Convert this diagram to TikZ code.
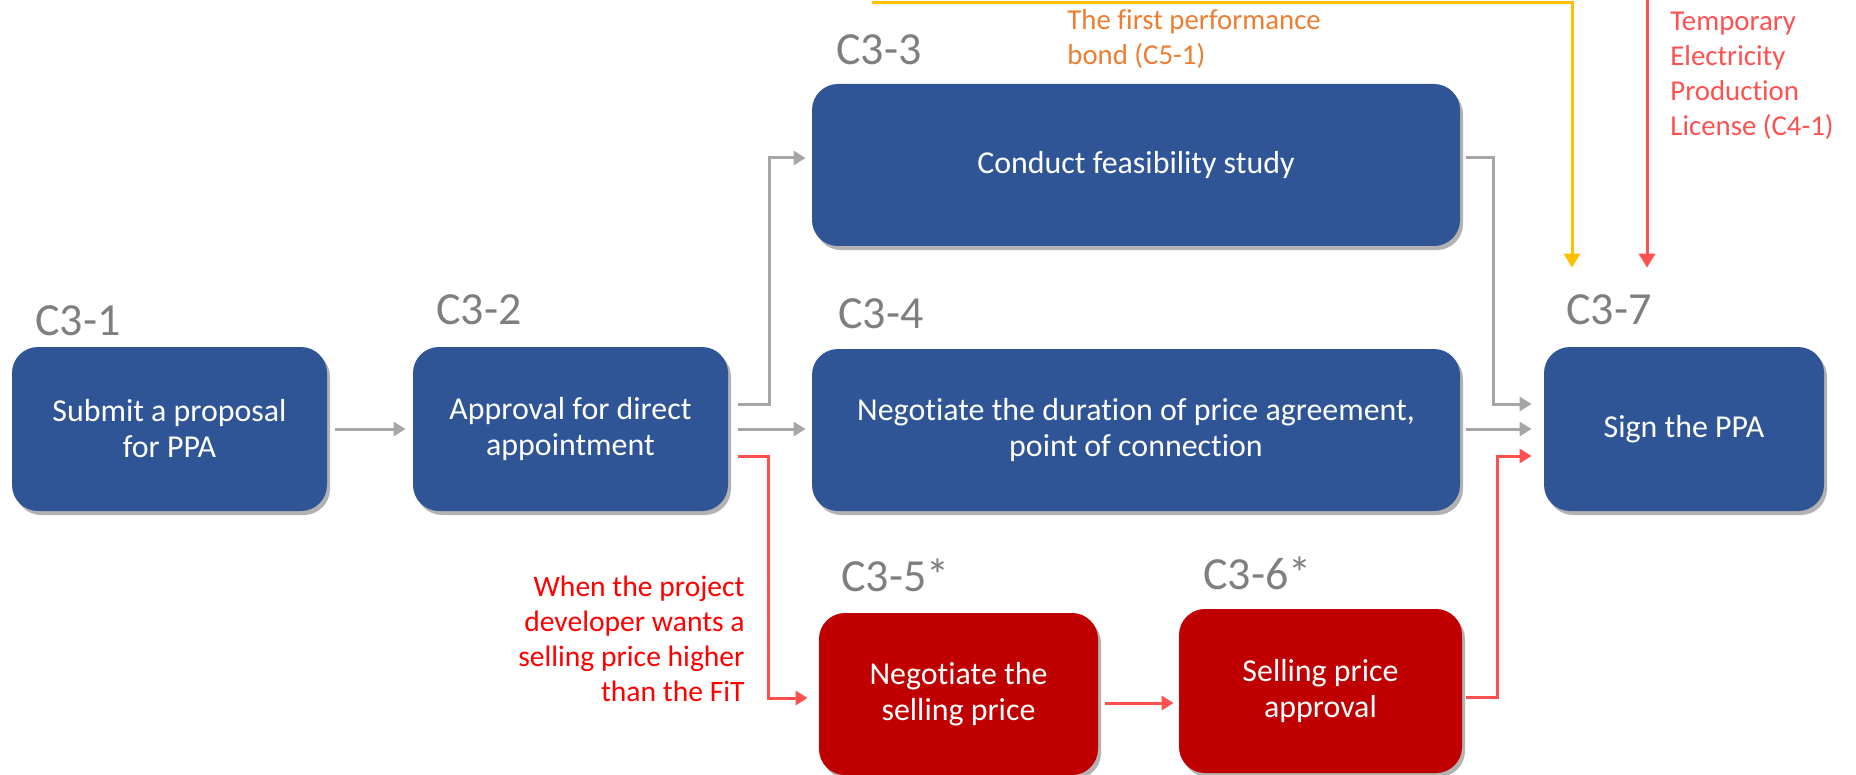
\documentclass[tikz,border=0pt]{standalone}
\usepackage{fontspec}
\setmainfont{Carlito}[Ligatures={NoCommon}]
\usetikzlibrary{calc,shadows,arrows.meta}
\definecolor{boxblue}{HTML}{2F5597}
\definecolor{boxred}{HTML}{C00000}
\definecolor{arrgrey}{HTML}{A6A6A6}
\definecolor{arrred}{HTML}{FF5050}
\definecolor{arryel}{HTML}{FFC000}
\definecolor{txtorange}{HTML}{ED7D31}
\definecolor{txtred}{HTML}{FF0000}
\definecolor{txtpink}{HTML}{FF5050}
\definecolor{labgrey}{HTML}{7F7F7F}
\begin{document}
\begin{tikzpicture}[x=0.5pt,y=-0.5pt,
  stage/.style={rounded corners=13pt, text=white, align=center,
    font=\fontsize{15.95}{18}\selectfont, inner sep=0pt,
    drop shadow={shadow xshift=1.5pt,shadow yshift=-2pt,opacity=0.3,fill=black}},
  bluebox/.style={stage, fill=boxblue},
  redbox/.style={stage, fill=boxred},
  lab/.style={text=labgrey, font=\fontsize{23}{27}\selectfont, inner sep=0pt, anchor=base west},
  note/.style={font=\fontsize{14.4}{17.5}\selectfont, inner sep=0pt},
  garrow/.style={draw=arrgrey, line width=1.5pt, -{Triangle[length=6pt,width=7pt]}},
  rarrow/.style={draw=arrred, line width=1.5pt, -{Triangle[length=6pt,width=7pt]}},
  yarrow/.style={draw=arryel, line width=1.5pt, -{Triangle[length=7pt,width=8pt]}},
  parrow/.style={draw=arrred, line width=1.5pt, -{Triangle[length=7pt,width=8pt]}}]
\useasboundingbox (0,0) rectangle (1856,775);

% boxes
\node[bluebox, minimum width=157.5pt, minimum height=82pt] (c1) at (169.5,429) {Submit a proposal\\for PPA};
\node[bluebox, minimum width=157.5pt, minimum height=82pt] (c2) at (570.5,429) {Approval for direct\\appointment};
\node[bluebox, minimum width=324pt, minimum height=81pt] (c3) at (1136,165) {Conduct feasibility study};
\node[bluebox, minimum width=324pt, minimum height=81pt] (c4) at (1136,430) {Negotiate the duration of price agreement,\\point of connection};
\node[redbox, minimum width=139.5pt, minimum height=81pt] (c5) at (958.5,694) {Negotiate the\\selling price};
\node[redbox, minimum width=141.5pt, minimum height=82pt] (c6) at (1320.5,691) {Selling price\\approval};
\node[bluebox, minimum width=140pt, minimum height=82pt] (c7) at (1684,429) {Sign the PPA};

% labels
\node[lab] (l1) at (35,335) {C3-1};
\node[lab] (l2) at (436,324) {C3-2};
\node[lab] (l3) at (836,65) {C3-3};
\node[lab] (l4) at (838,328) {C3-4};
\node[lab] (l5) at (841,591) {C3-5*};
\node[lab] (l6) at (1203,589) {C3-6*};
\node[lab] (l7) at (1566,324) {C3-7};

% annotations (base = last line)
\node[note, text=txtorange, align=left, anchor=base west] (n1) at (1067,65) {The first performance\\bond (C5-1)};
\node[note, text=txtpink, align=left, anchor=base west] (n2) at (1670,136) {Temporary\\Electricity\\Production\\License (C4-1)};
\node[note, text=txtred, align=right, anchor=base east, font=\fontsize{14.8}{17.5}\selectfont] (n3) at (745,701) {When the project\\developer wants a\\selling price higher\\than the FiT};

% connectors
\draw[garrow] ($(c1.east)+(8,0)$) -- ($(c2.west)+(-7,0)$);
\draw[garrow] ($(c2.east)+(10,-25)$) -- ++(31,0) |- ($(c3.west)+(-6,-7)$);
\draw[garrow] ($(c2.east)+(10,0)$) -- ($(c4.west)+(-6,-1)$);
\draw[rarrow] ($(c2.east)+(10,27)$) -- ++(30,0) |- ($(c5.west)+(-11,4)$);
\draw[rarrow] ($(c5.east)+(7,9)$) -- ($(c6.west)+(-5,12)$);
\draw[rarrow] ($(c6.east)+(4,6)$) -- ++(31,0) |- ($(c7.west)+(-12,27)$);
\draw[garrow] ($(c3.east)+(6,-7)$) -- ++(27,0) |- ($(c7.west)+(-12,-25)$);
\draw[garrow] ($(c4.east)+(6,-1)$) -- ($(c7.west)+(-12,0)$);

\coordinate (ys) at (872,3);
\coordinate (ps) at (1647,0);
\draw[yarrow] (ys) -| ($(c7.north)+(-112,-79)$);
\draw[parrow] (ps) -- ($(c7.north)+(-37,-79)$);
\end{tikzpicture}
\end{document}
